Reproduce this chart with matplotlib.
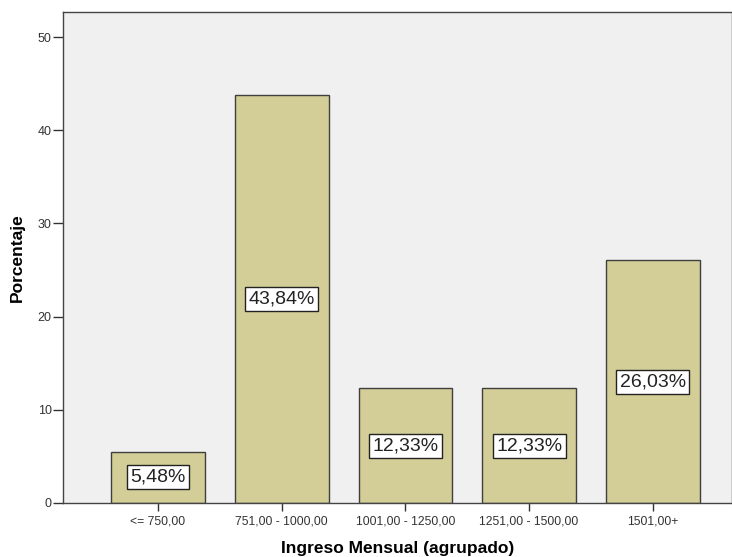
import matplotlib
matplotlib.use("Agg")
import matplotlib.pyplot as plt

categories = ["<= 750,00", "751,00 - 1000,00", "1001,00 - 1250,00", "1251,00 - 1500,00", "1501,00+"]
percentages = [5.48, 43.84, 12.33, 12.33, 26.03]
y_ticks = [0, 10, 20, 30, 40, 50]

plt.rcParams['font.family'] = ['Liberation Sans', 'DejaVu Sans']

fig = plt.figure(figsize=(7.32, 5.57), dpi=100)
ax = fig.add_axes([0.0857, 0.097, 0.9143, 0.8815])
ax.set_facecolor('#F0F0F0')

x = list(range(len(categories)))
ax.bar(x, percentages, width=0.757, color='#D3CE97', edgecolor='#3F3F3F', linewidth=1.0, zorder=2)

for xi, v in zip(x, percentages):
    ax.text(xi, v / 2, f"{v:.2f}".replace('.', ',') + "%", ha='center', va='center', fontsize=14,
            color='#222222', zorder=3,
            bbox=dict(boxstyle='square,pad=0.18', facecolor='white', edgecolor='#222222', linewidth=1.0))

ax.set_xlim(-0.77, 4.64)
ax.set_ylim(0, 52.7)
ax.set_xticks(x)
ax.set_xticklabels(categories, fontsize=8.7, color='#333333')
ax.set_yticks(y_ticks)
ax.set_yticklabels([str(t) for t in y_ticks], fontsize=9, color='#333333')
ax.tick_params(axis='y', length=7, width=1, color='#333333', pad=1)
ax.tick_params(axis='x', length=6, width=1, color='#333333', pad=3)

for side in ['left', 'top', 'bottom', 'right']:
    ax.spines[side].set_color('#444444')
    ax.spines[side].set_linewidth(1.0)

ax.set_ylabel('Porcentaje', fontsize=12.5, fontweight='bold', labelpad=9)
ax.set_xlabel('Ingreso Mensual (agrupado)', fontsize=12.5, fontweight='bold', labelpad=10)

fig.savefig('out.png', dpi=100, facecolor='white')
